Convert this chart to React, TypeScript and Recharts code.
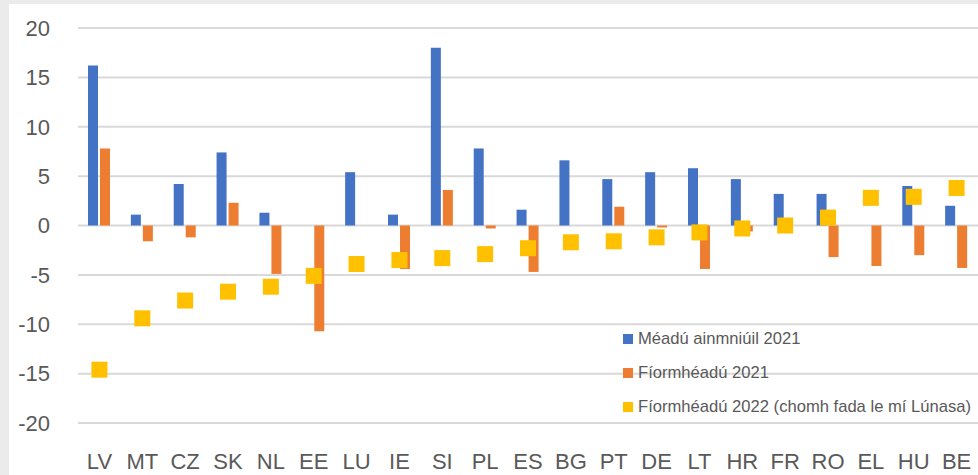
import React from "react";
import {
  ComposedChart,
  Bar,
  Scatter,
  XAxis,
  YAxis,
  CartesianGrid,
  Legend,
} from "recharts";

const countries = [
  "LV", "MT", "CZ", "SK", "NL", "EE", "LU", "IE", "SI", "PL", "ES",
  "BG", "PT", "DE", "LT", "HR", "FR", "RO", "EL", "HU", "BE",
];
const nominal2021 = [
  16.2, 1.1, 4.2, 7.4, 1.3, 0, 5.4, 1.1, 18.0, 7.8, 1.6,
  6.6, 4.7, 5.4, 5.8, 4.7, 3.2, 3.2, 0, 4.0, 2.0,
];
const real2021 = [
  7.8, -1.6, -1.2, 2.3, -4.9, -10.7, 0, -4.4, 3.6, -0.3, -4.7,
  0, 1.9, -0.2, -4.4, -0.6, 0, -3.2, -4.1, -3.0, -4.3,
];
const real2022 = [
  -14.6, -9.4, -7.6, -6.7, -6.2, -5.1, -3.9, -3.5, -3.3, -2.9, -2.3,
  -1.7, -1.6, -1.2, -0.7, -0.3, 0, 0.8, 2.8, 2.9, 3.8,
];
const yTicks = [-20, -15, -10, -5, 0, 5, 10, 15, 20];
const seriesNames = [
  "Méadú ainmniúil 2021",
  "Fíormhéadú 2021",
  "Fíormhéadú 2022 (chomh fada le mí Lúnasa)",
];
const seriesColors = ["#4472c4", "#ed7d31", "#ffc000"];

const data = countries.map((c, i) => ({
  country: c,
  nominal: nominal2021[i],
  real21: real2021[i],
  real22: real2022[i],
}));

const font = "'Liberation Sans', Arial, sans-serif";
const textColor = "#595959";

// yellow square marker
const SquareDot = (props: any) => {
  const { cx, cy } = props;
  if (cx == null || cy == null) return null;
  return <rect x={cx - 8} y={cy - 8} width={16} height={16} fill={seriesColors[2]} />;
};

const LegendBox = () => (
  <div style={{ fontFamily: font, fontSize: 16.6, color: textColor }}>
    {seriesNames.map((n, i) => (
      <div key={n} style={{ display: "flex", alignItems: "center", height: 34 }}>
        <span
          style={{
            display: "inline-block",
            width: 10,
            height: 10,
            background: seriesColors[i],
            marginRight: 5,
          }}
        />
        <span style={{ whiteSpace: "nowrap" }}>{n}</span>
      </div>
    ))}
  </div>
);

export default function App() {
  return (
    <div style={{ width: 978, height: 475, background: "#ebebeb", position: "relative" }}>
      <style>{"body{margin:0}"}</style>
      <div
        style={{
          position: "absolute",
          left: 9,
          top: 4,
          width: 969,
          height: 471,
          background: "#fff",
        }}
      >
        <ComposedChart
          width={969}
          height={471}
          data={data}
          margin={{ top: 24, right: 0, bottom: 0, left: 0 }}
          barSize={10}
          barGap={2}
        >
          <CartesianGrid vertical={false} stroke="#d9d9d9" strokeWidth={2} />
          <XAxis
            dataKey="country"
            axisLine={false}
            tickLine={false}
            height={52}
            tickMargin={24}
            interval={0}
            tick={{ fill: textColor, fontSize: 22, fontFamily: font }}
          />
          <YAxis
            domain={[-20, 20]}
            ticks={yTicks}
            axisLine={false}
            tickLine={false}
            width={69}
            tickMargin={22}
            tick={{ fill: textColor, fontSize: 22, fontFamily: font }}
          />
          <Bar dataKey="nominal" name={seriesNames[0]} fill={seriesColors[0]} isAnimationActive={false} />
          <Bar dataKey="real21" name={seriesNames[1]} fill={seriesColors[1]} isAnimationActive={false} />
          <Scatter
            dataKey="real22"
            name={seriesNames[2]}
            fill={seriesColors[2]}
            shape={SquareDot}
            isAnimationActive={false}
          />
          <Legend
            layout="vertical"
            align="center"
            verticalAlign="middle"
            content={LegendBox}
            wrapperStyle={{ position: "absolute", left: 614, top: 318, width: 360 }}
          />
        </ComposedChart>
      </div>
    </div>
  );
}
